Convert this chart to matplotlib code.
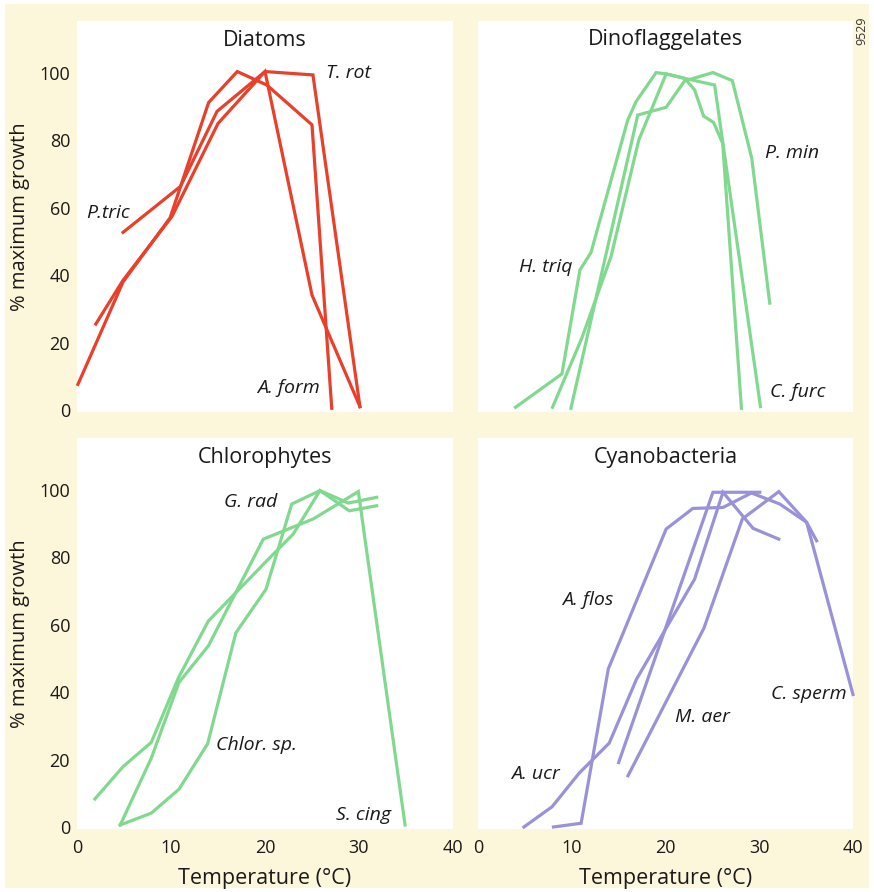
import matplotlib.pyplot as plt
from matplotlib.patches import Rectangle

plt.rcParams['font.family'] = ['Open Sans', 'DejaVu Sans']

# Diatoms
ptric_t = [4.9, 11.0, 14.9, 20.0, 25.1, 30.1]
ptric_g = [52.7, 66.3, 88.6, 100.4, 99.4, 1.0]
trot_t = [0.1, 4.9, 9.9, 14.0, 17.05, 20.2, 25.0, 27.1]
trot_g = [7.6, 38.0, 57.0, 91.2, 100.4, 96.4, 84.6, 0.5]
aform_t = [2.0, 4.9, 10.1, 15.0, 20.0, 25.0, 30.1]
aform_g = [25.5, 38.5, 57.4, 85.0, 100.4, 34.1, 1.0]

# Dinoflagellates
htriq_t = [4.0, 8.95, 10.87, 12.05, 15.97, 16.86, 19.0, 20.07, 22.03, 23.1, 24.06, 25.13, 26.1, 28.1]
htriq_g = [0.8, 10.7, 41.5, 46.7, 86.0, 91.5, 100.1, 99.7, 98.4, 95.0, 87.2, 85.3, 79.1, 0.5]
cfurc_t = [7.95, 11.1, 14.19, 17.15, 20.07, 22.03, 25.24, 30.13]
cfurc_g = [0.8, 21.5, 45.5, 80.1, 99.7, 98.4, 96.4, 1.0]
pmin_t = [9.91, 17.04, 20.07, 22.03, 25.06, 27.13, 29.2, 31.12]
pmin_g = [0.5, 87.5, 89.8, 97.6, 100.1, 97.7, 74.7, 31.7]

# Chlorophytes
grad_t = [1.9, 4.9, 7.9, 10.8, 13.97, 20.2, 23.0, 25.85, 28.97, 31.88]
grad_g = [8.3, 17.9, 25.1, 44.3, 61.1, 79.0, 86.9, 99.8, 93.8, 95.3]
chlor_t = [4.6, 7.9, 10.85, 13.9, 16.9, 20.1, 22.84, 25.85, 28.86, 31.88]
chlor_g = [0.6, 4.1, 11.2, 24.7, 57.6, 70.5, 95.8, 99.8, 96.1, 97.8]
scing_t = [4.6, 7.9, 10.85, 13.97, 19.82, 25.14, 29.93, 34.9]
scing_g = [0.6, 20.4, 42.9, 53.7, 85.4, 91.4, 99.5, 0.6]

# Cyanobacteria
aucr_t = [4.9, 7.9, 10.8, 14.0, 16.9, 23.1, 26.13, 29.34, 32.09]
aucr_g = [0.0, 6.0, 16.0, 24.9, 43.8, 73.5, 99.3, 88.6, 85.4]
aflos_t = [8.05, 11.0, 13.9, 20.07, 22.92, 26.13, 29.17, 32.2, 35.05, 36.12]
aflos_g = [0.0, 1.1, 46.9, 88.4, 94.5, 94.8, 99.1, 95.8, 90.4, 84.9]
maer_t = [15.0, 25.06, 30.05]
maer_g = [19.1, 99.3, 99.3]
csperm_t = [16.0, 24.1, 28.2, 32.09, 35.05, 40.0]
csperm_g = [15.2, 59.0, 91.4, 99.5, 90.4, 39.3]

yticks = [0, 20, 40, 60, 80, 100]
xticks = [0, 10, 20, 30, 40]

red = '#e8402a'
green = '#80d98e'
purple = '#9992d8'
cream = '#fcf6da'
ink = '#1a1a1a'

W, H = 874, 892
fig = plt.figure(figsize=(W / 100, H / 100), dpi=100, facecolor='white')
fig.patches.append(Rectangle((5 / W, 4 / H), 864 / W, 884 / H, transform=fig.transFigure,
                             facecolor=cream, edgecolor='none', zorder=-10))

pw, ph = 376 / W, 391 / H
axes = {
    'tl': fig.add_axes([77 / W, 1 - 412 / H, pw, ph]),
    'tr': fig.add_axes([478 / W, 1 - 412 / H, 375 / W, ph]),
    'bl': fig.add_axes([77 / W, 1 - 829 / H, pw, ph]),
    'br': fig.add_axes([478 / W, 1 - 829 / H, 375 / W, ph]),
}

panels = [
    ('tl', 'Diatoms', red, [(ptric_t, ptric_g), (trot_t, trot_g), (aform_t, aform_g)],
     [('P.tric', 1.0, 58.4), ('T. rot', 26.5, 100.0), ('A. form', 19.2, 6.4)]),
    ('tr', 'Dinoflaggelates', green, [(htriq_t, htriq_g), (cfurc_t, cfurc_g), (pmin_t, pmin_g)],
     [('H. triq', 4.4, 42.3), ('P. min', 30.6, 76.2), ('C. furc', 31.1, 5.4)]),
    ('bl', 'Chlorophytes', green, [(grad_t, grad_g), (chlor_t, chlor_g), (scing_t, scing_g)],
     [('G. rad', 15.6, 96.5), ('Chlor. sp.', 14.8, 24.2), ('S. cing', 27.6, 3.6)]),
    ('br', 'Cyanobacteria', purple, [(aucr_t, aucr_g), (aflos_t, aflos_g), (maer_t, maer_g), (csperm_t, csperm_g)],
     [('A. flos', 9.0, 67.3), ('M. aer', 21.0, 32.5), ('C. sperm', 31.3, 39.5), ('A. ucr', 3.5, 15.7)]),
]

for key, title, color, lines, labels in panels:
    ax = axes[key]
    ax.set_facecolor('white')
    for t, g in lines:
        ax.plot(t, g, color=color, lw=2.3, solid_joinstyle='miter', clip_on=False)
    for name, x, y in labels:
        ax.text(x, y, name, fontsize=14, style='italic', ha='left', va='center', color=ink)
    ax.text(0.5, 1 - 19 / 391, title, transform=ax.transAxes, ha='center', va='center',
            fontsize=15.5, color=ink)
    ax.set_xlim(0, 40)
    ax.set_ylim(-0.6, 115.4)
    for s in ax.spines.values():
        s.set_visible(False)
    ax.tick_params(length=0, labelsize=13, colors=ink)
    ax.tick_params(axis='y', pad=5)
    ax.tick_params(axis='x', pad=7)
    if key in ('tl', 'bl'):
        ax.set_yticks(yticks)
        ax.set_ylabel('% maximum growth', fontsize=14.5, labelpad=7, color=ink)
    else:
        ax.set_yticks([])
    if key in ('bl', 'br'):
        ax.set_xticks(xticks)
        ax.set_xlabel('Temperature (°C)', fontsize=15.5, labelpad=8, color=ink)
    else:
        ax.set_xticks([])

fig.text(862 / W, 1 - 31 / H, '9529', rotation=90, fontsize=9, ha='center', va='center', color='#333333')

fig.savefig('out.png', dpi=100, facecolor=fig.get_facecolor())
